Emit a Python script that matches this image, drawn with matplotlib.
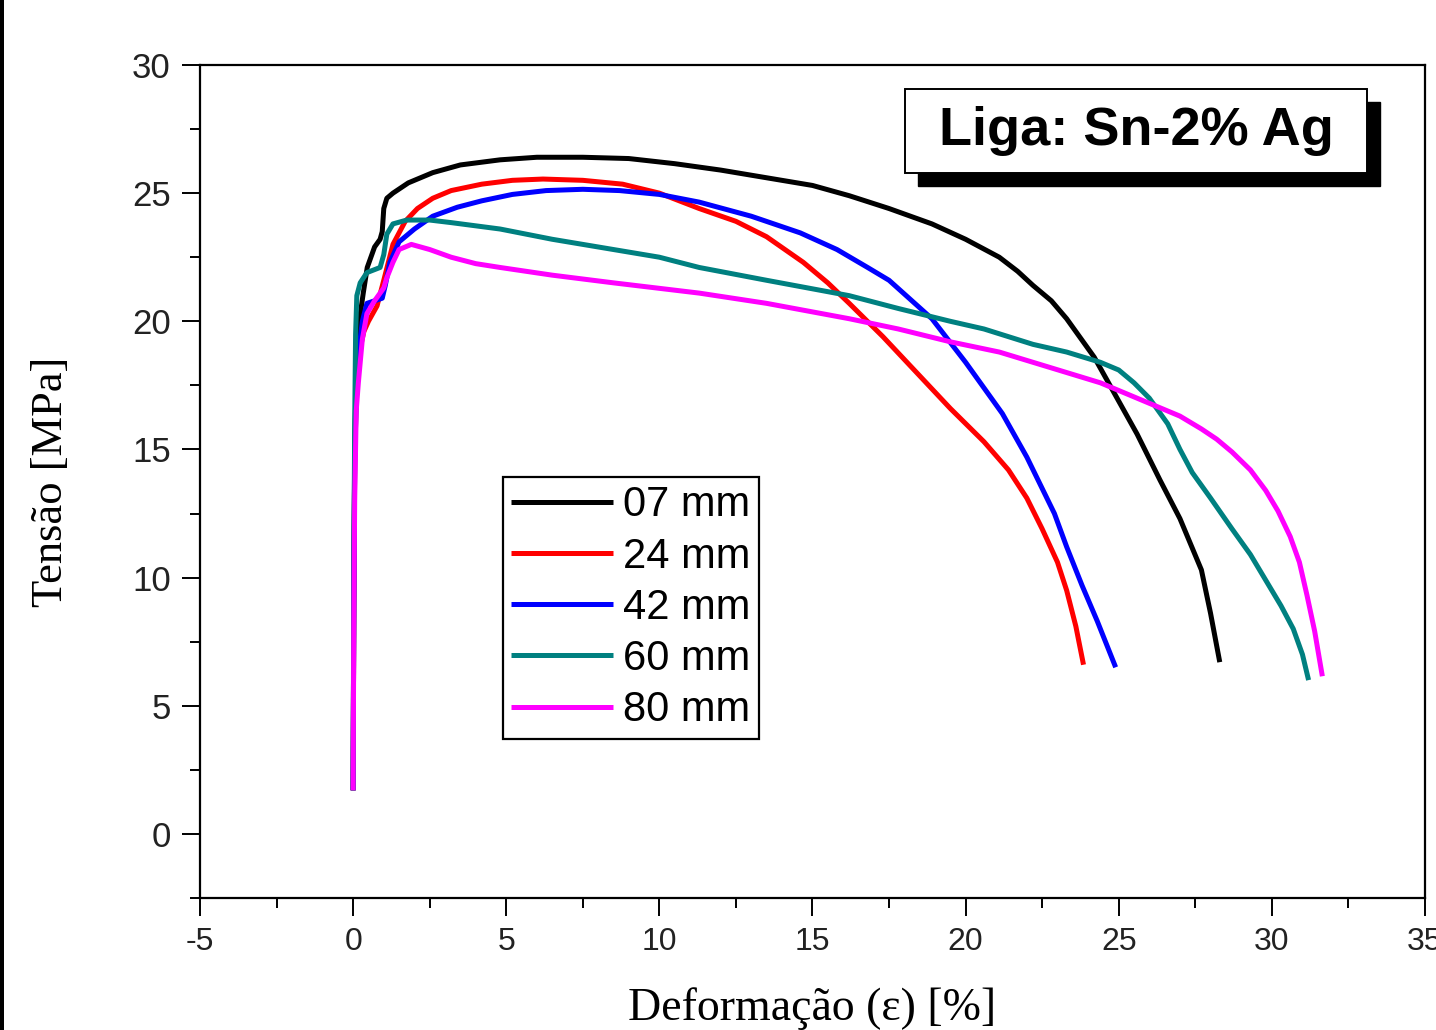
import matplotlib
matplotlib.use("Agg")
import matplotlib.pyplot as plt
from matplotlib.patches import Rectangle
from matplotlib.ticker import MultipleLocator

plt.rcParams["axes.unicode_minus"] = False

# Stress-strain curves, Sn-2% Ag alloy, samples at different positions
labels = ["07 mm", "24 mm", "42 mm", "60 mm", "80 mm"]
colors = ["#000000", "#ff0000", "#0000ff", "#008080", "#ff00ff"]

strain_07 = [0, 0.02, 0.05, 0.1, 0.2, 0.33, 0.46, 0.7, 0.88, 0.95, 1.0, 1.1, 1.3, 1.8, 2.6, 3.5,
             4.8, 6.0, 7.5, 9.0, 10.5, 12, 13.5, 15, 16.2, 17.5, 18.9, 20.0, 21.1, 21.7, 22.2, 22.8,
             23.3, 24.2, 24.9, 25.6, 26.35, 27.0, 27.7, 28.0, 28.3]
stress_07 = [1.7, 9, 15, 18, 20.0, 21.1, 22.1, 22.9, 23.2, 23.5, 24.4, 24.8, 25.0, 25.4, 25.8, 26.1,
             26.3, 26.4, 26.4, 26.35, 26.15, 25.9, 25.6, 25.3, 24.9, 24.4, 23.8, 23.2, 22.5, 21.95, 21.4, 20.8,
             20.1, 18.6, 17.1, 15.6, 13.8, 12.3, 10.3, 8.6, 6.7]

strain_24 = [0, 0.02, 0.05, 0.1, 0.2, 0.35, 0.5, 0.78, 1.0, 1.3, 1.7, 2.1, 2.6, 3.2, 4.2, 5.2, 6.2,
             7.5, 8.8, 10, 11.3, 12.5, 13.5, 14.7, 15.5, 16.2, 17.3, 18.4, 19.5, 20.6, 21.4, 22.0,
             22.5, 23.0, 23.3, 23.6, 23.85]
stress_24 = [1.7, 9, 14.5, 17, 18.8, 19.6, 20.0, 20.6, 21.6, 23.0, 23.9, 24.4, 24.8, 25.1, 25.35, 25.5, 25.55,
             25.5, 25.35, 25.0, 24.4, 23.9, 23.3, 22.3, 21.5, 20.7, 19.4, 18.0, 16.6, 15.3, 14.2, 13.1,
             11.9, 10.6, 9.5, 8.1, 6.6]

strain_42 = [0, 0.02, 0.05, 0.1, 0.2, 0.3, 0.45, 0.7, 0.95, 1.05, 1.2, 1.5, 2.0, 2.6, 3.4, 4.2, 5.2,
             6.3, 7.5, 8.7, 10, 11.3, 13, 14.6, 15.8, 16.8, 17.5, 18.9, 20.0, 21.2, 22.0, 22.9, 23.3,
             23.8, 24.3, 24.6, 24.9]
stress_42 = [1.7, 9, 14.5, 17, 19.0, 20.0, 20.7, 20.8, 20.9, 21.4, 22.3, 23.1, 23.6, 24.1, 24.45, 24.7, 24.95,
             25.1, 25.15, 25.1, 24.95, 24.65, 24.1, 23.45, 22.8, 22.1, 21.6, 20.1, 18.4, 16.4, 14.7, 12.5, 11.2,
             9.7, 8.3, 7.4, 6.5]

strain_60 = [0, 0.02, 0.05, 0.08, 0.12, 0.23, 0.45, 0.88, 1.0, 1.1, 1.3, 1.75, 2.5, 3.2, 4.8, 6.5, 8.5,
             10, 11.3, 13.5, 16.2, 17.8, 19.5, 20.6, 22.2, 23.3, 24.4, 25.0, 25.5, 26.0, 26.6, 27.0,
             27.4, 28.0, 28.7, 29.3, 29.8, 30.3, 30.7, 31.0, 31.2]
stress_60 = [1.7, 10, 16, 19.5, 21.0, 21.5, 21.9, 22.1, 22.6, 23.4, 23.8, 23.95, 23.95, 23.85, 23.6, 23.2, 22.8,
             22.5, 22.1, 21.6, 21.0, 20.5, 20.0, 19.7, 19.1, 18.8, 18.4, 18.1, 17.6, 17.0, 16.0, 15.0,
             14.1, 13.1, 11.9, 10.9, 9.9, 8.9, 8.0, 7.0, 6.0]

strain_80 = [0, 0.02, 0.05, 0.1, 0.17, 0.3, 0.45, 0.7, 0.88, 1.0, 1.1, 1.3, 1.5, 1.9, 2.5, 3.2, 4.0,
             4.8, 6.5, 8.5, 11.3, 13.5, 16.2, 17.8, 19.5, 21.1, 22.2, 24.4, 26.0, 27.0, 27.7, 28.2,
             28.7, 29.3, 29.8, 30.2, 30.6, 30.9, 31.15, 31.4, 31.65]
stress_80 = [1.7, 8, 13, 16.5, 17.6, 19.3, 20.3, 20.8, 21.1, 21.3, 21.7, 22.3, 22.8, 23.0, 22.8, 22.5, 22.25,
             22.1, 21.8, 21.5, 21.1, 20.7, 20.1, 19.7, 19.2, 18.8, 18.4, 17.6, 16.8, 16.3, 15.8, 15.4,
             14.9, 14.2, 13.4, 12.6, 11.6, 10.6, 9.3, 7.9, 6.15]

x_ticks = [-5, 0, 5, 10, 15, 20, 25, 30, 35]
y_ticks = [0, 5, 10, 15, 20, 25, 30]

series = [(strain_07, stress_07), (strain_24, stress_24), (strain_42, stress_42),
          (strain_60, stress_60), (strain_80, stress_80)]

sans = "Liberation Sans"
serif = "Liberation Serif"

fig = plt.figure(figsize=(14.36, 10.30), dpi=100)
ax = fig.add_axes([0.1393, 0.1282, 0.9923 - 0.1393, 0.9369 - 0.1282])

for (xs, ys), lab, col in zip(series, labels, colors):
    ax.plot(xs, ys, color=col, lw=3.6, label=lab, solid_capstyle="butt",
            solid_joinstyle="round")

ax.set_xlim(-5, 35)
ax.set_ylim(-2.5, 30)
ax.set_xticks(x_ticks)
ax.set_yticks(y_ticks)
ax.xaxis.set_minor_locator(MultipleLocator(2.5))
ax.yaxis.set_minor_locator(MultipleLocator(2.5))
ax.tick_params(which="major", direction="out", length=13, width=1.4, pad=8,
               top=False, right=False)
ax.tick_params(which="minor", direction="out", length=7, width=1.4, top=False, right=False)
ax.tick_params(axis="x", labelsize=23)
ax.tick_params(axis="y", labelsize=25)
for lab in ax.get_xticklabels() + ax.get_yticklabels():
    lab.set_fontfamily(sans)
    lab.set_color("#222222")
for s in ax.spines.values():
    s.set_linewidth(1.6)

ax.set_xlabel("Deformação (ε) [%]", fontfamily=serif, fontsize=33, labelpad=22)
ax.set_ylabel("Tensão [MPa]", fontfamily=serif, fontsize=32, labelpad=44)

leg = ax.legend(loc="upper left", bbox_to_anchor=(0.2473, 0.5054), frameon=True,
                fancybox=False, edgecolor="black", framealpha=1, borderaxespad=0,
                handlelength=2.45, handletextpad=0.24, borderpad=0.2, labelspacing=0.27,
                prop={"family": sans, "size": 30})
leg.get_frame().set_linewidth(1.6)

# Alloy label box with a drop shadow
bx0, bx1, by0, by1 = 0.5755, 0.9527, 0.8703, 0.9712
dx, dy = 13 / 1225, 13 / 833
ax.add_patch(Rectangle((bx0 + dx, by0 - dy), bx1 - bx0, by1 - by0, transform=ax.transAxes,
                       facecolor="black", edgecolor="black", zorder=5))
ax.add_patch(Rectangle((bx0, by0), bx1 - bx0, by1 - by0, transform=ax.transAxes,
                       facecolor="white", edgecolor="black", lw=1.4, zorder=6))
ax.text((bx0 + bx1) / 2, (by0 + by1) / 2, "Liga: Sn-2% Ag", transform=ax.transAxes,
        ha="center", va="center", fontfamily=sans, fontweight="bold", fontsize=39, zorder=7)

# dark strip along the left edge of the figure
fig.patches.append(Rectangle((0, 0), 4 / 1436, 1, transform=fig.transFigure,
                             facecolor="black", edgecolor="none"))

fig.savefig("out.png", dpi=100)
